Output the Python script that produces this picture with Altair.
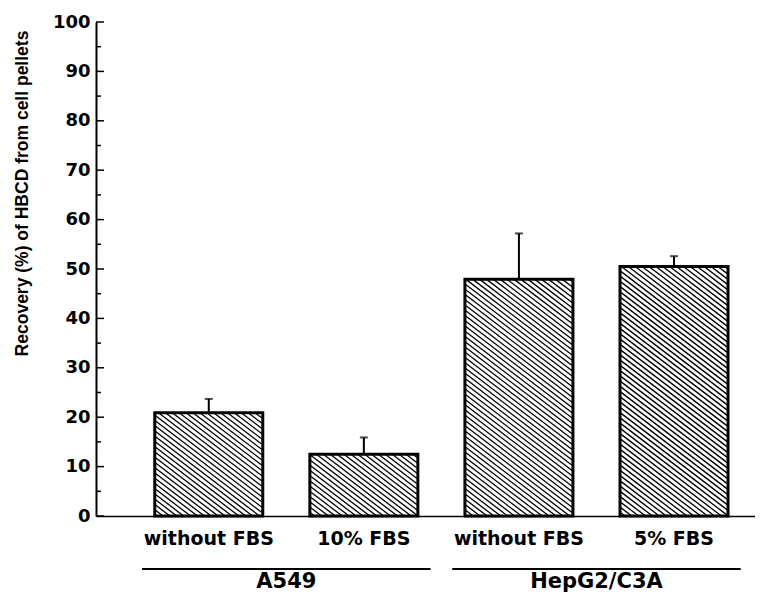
import math
import altair as alt
import pandas as pd

# ---- data ----
categories = ["without FBS", "10% FBS", "without FBS", "5% FBS"]
groups = ["A549", "A549", "HepG2/C3A", "HepG2/C3A"]
recovery = [20.9, 12.5, 47.9, 50.5]
sd = [2.8, 3.4, 9.3, 2.1]
y_ticks = list(range(0, 101, 10))
y_title = "Recovery (%) of HBCD from cell pellets"

# ---- layout / style ----
W, H = 659, 494
X_DOMAIN = [0.305, 4.49]
Y_DOMAIN = [0, 100]
BAR_PX = 108
HATCH_PX = 7          # horizontal spacing of hatch lines (px)
HATCH_SLOPE = 0.75    # vertical px per horizontal px
GROUP_PAD = 0.43
LABEL_FONT = "DejaVu Sans"
TITLE_FONT = "Liberation Sans"

pos = list(range(1, len(categories) + 1))
df = pd.DataFrame({"pos": pos, "cat": categories, "group": groups,
                   "value": recovery, "sd": sd})
df["upper"] = df["value"] + df["sd"]

# hatch segments ("\\") derived from bar values and the scales
sx = W / (X_DOMAIN[1] - X_DOMAIN[0])
sy = H / (Y_DOMAIN[1] - Y_DOMAIN[0])
rows = []
for p, v in zip(pos, recovery):
    cx = (p - X_DOMAIN[0]) * sx
    xa, xb = cx - BAR_PX / 2, cx + BAR_PX / 2
    h = v * sy
    c = math.ceil(xa / HATCH_PX) * HATCH_PX
    while c < xb + h / HATCH_SLOPE:
        x0 = max(xa, c - h / HATCH_SLOPE)
        x1 = min(xb, c)
        if x1 > x0:
            rows.append({"hx": X_DOMAIN[0] + x0 / sx,
                         "hy": HATCH_SLOPE * (c - x0) / sy,
                         "hx2": X_DOMAIN[0] + x1 / sx,
                         "hy2": HATCH_SLOPE * (c - x1) / sy})
        c += HATCH_PX
hdf = pd.DataFrame(rows)

gdf = (df.groupby("group", sort=False)["pos"]
       .agg(["min", "max", "mean"]).reset_index())
gdf["start"] = gdf["min"] - GROUP_PAD
gdf["end"] = gdf["max"] + GROUP_PAD

major = pd.DataFrame({"t": y_ticks})
minor = pd.DataFrame({"t": [(a + b) / 2 for a, b in zip(y_ticks[:-1], y_ticks[1:])]})

xscale = alt.Scale(domain=X_DOMAIN, nice=False, zero=False)
yscale = alt.Scale(domain=Y_DOMAIN, nice=False)

xaxis = alt.Axis(labels=False, ticks=False, grid=False, title=None,
                 domainColor="black", domainWidth=1.5)
yaxis = alt.Axis(values=y_ticks, ticks=False, tickSize=0, grid=False,
                 labelPadding=6, labelFont=LABEL_FONT, labelFontSize=18,
                 labelFontWeight="bold", labelColor="black",
                 domainColor="black", domainWidth=2,
                 title=y_title, titleFont=TITLE_FONT, titleFontSize=17.5,
                 titleFontWeight="bold", titleColor="black",
                 titleAngle=270, titleX=-74, titleY=171,
                 titleAlign="center", titleBaseline="middle")


def X(field):
    return alt.X(field, scale=xscale, axis=xaxis)


def Y(field):
    return alt.Y(field, scale=yscale, axis=yaxis)


hatch = alt.Chart(hdf).mark_rule(color="black", strokeWidth=1.3).encode(
    x=X("hx:Q"), x2="hx2:Q", y=Y("hy:Q"), y2="hy2:Q",
)

bars = alt.Chart(df).mark_bar(size=BAR_PX, fill="white", fillOpacity=0,
                              stroke="black", strokeWidth=3).encode(
    x=X("pos:Q"), y=Y("value:Q"),
)

err = alt.Chart(df).mark_rule(color="black", strokeWidth=2).encode(
    x=X("pos:Q"), y=Y("value:Q"), y2="upper:Q",
)

caps = alt.Chart(df).mark_tick(orient="horizontal", size=8, thickness=2,
                               color="black").encode(
    x=X("pos:Q"), y=Y("upper:Q"),
)

major_ticks = alt.Chart(major).mark_rule(color="black", strokeWidth=1.5).encode(
    y=Y("t:Q"), x=alt.value(0), x2=alt.value(8),
)
minor_ticks = alt.Chart(minor).mark_rule(color="black", strokeWidth=1.5).encode(
    y=Y("t:Q"), x=alt.value(0), x2=alt.value(5),
)

cat_labels = alt.Chart(df).mark_text(font=LABEL_FONT, fontWeight="bold",
                                     fontSize=19, baseline="alphabetic",
                                     color="black").encode(
    x=X("pos:Q"), y=alt.value(H + 29), text="cat:N",
)

group_lines = alt.Chart(gdf).mark_rule(color="black", strokeWidth=2).encode(
    x=X("start:Q"), x2="end:Q", y=alt.value(H + 53),
)

group_labels = alt.Chart(gdf).mark_text(font=LABEL_FONT, fontWeight="bold",
                                        fontSize=21, baseline="alphabetic",
                                        color="black").encode(
    x=X("mean:Q"), y=alt.value(H + 72), text="group:N",
)

chart = alt.layer(
    hatch, bars, err, caps, major_ticks, minor_ticks,
    cat_labels, group_lines, group_labels,
).properties(
    width=W, height=H,
    autosize=alt.AutoSizeParams(type="none"),
    padding={"left": 88, "top": 14, "right": 0, "bottom": 76},
).configure_view(stroke=None)

chart.save("out.html", embed_options={"renderer": "svg", "actions": False})
